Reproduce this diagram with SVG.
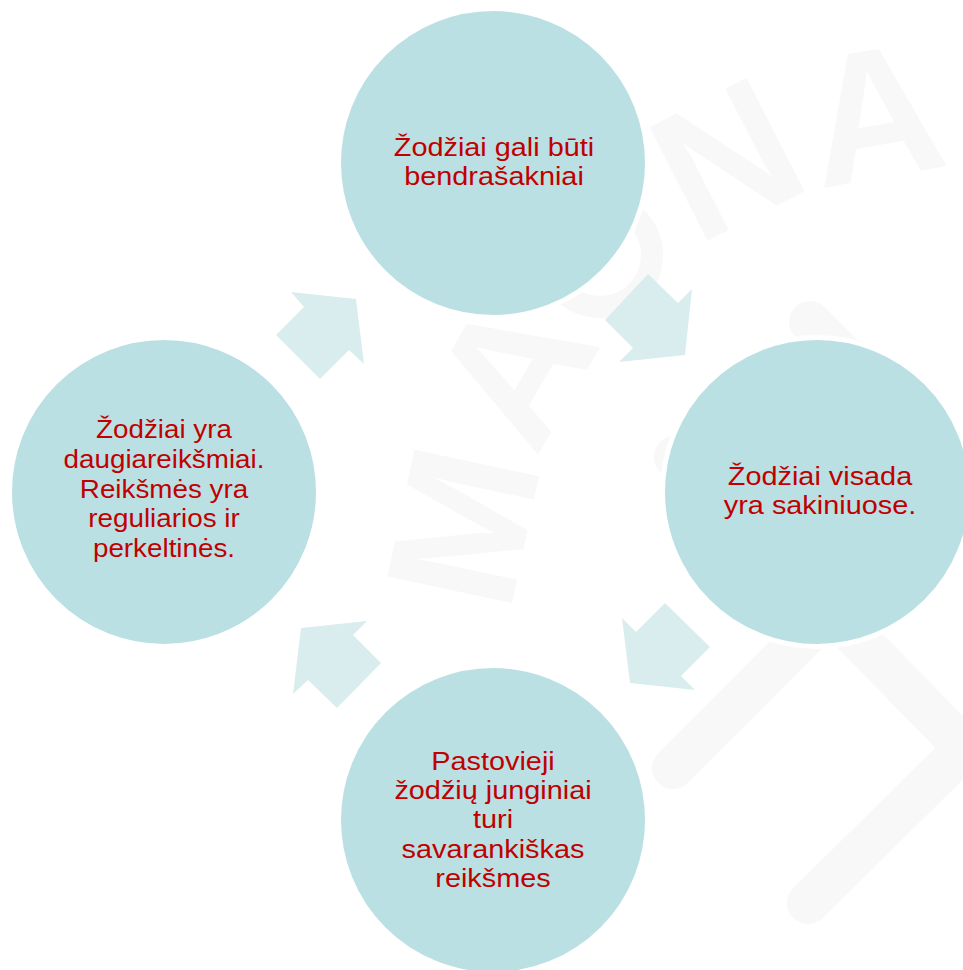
<svg xmlns="http://www.w3.org/2000/svg" width="963" height="970" viewBox="0 0 963 970">
  <defs>
    <style>
      .wm { fill: #f8f8f8; font-family: "Liberation Sans", Arial, sans-serif; font-weight: bold; font-size: 185px; text-anchor: middle; }
      .wms { fill: none; stroke: #f8f8f8; stroke-width: 42; stroke-linecap: round; stroke-linejoin: miter; }
      .node { fill: #bbe0e3; stroke: #ffffff; stroke-width: 5; }
      .lbl { fill: #c00000; font-family: "Liberation Sans", Arial, sans-serif; font-size: 26px; text-anchor: middle; }
      .arrow { fill: #d9edef; stroke: none; }
    </style>
  </defs>
  <rect x="0" y="0" width="963" height="970" fill="#ffffff"/>

  <g id="watermark">
    <text class="wm" transform="translate(461,526) rotate(-78)" x="0" y="66">M</text>
    <text class="wm" transform="translate(512,368) rotate(-60)" x="0" y="66">A</text>
    <circle cx="600" cy="255" r="52" fill="none" stroke="#f8f8f8" stroke-width="22"/>
    <text class="wm" transform="translate(726,157) rotate(-27)" x="0" y="66">N</text>
    <text class="wm" transform="translate(874,112) rotate(-10)" x="0" y="66">A</text>
    <path class="wms" d="M673,768 L840,601"/>
    <path class="wms" d="M820,600 L965,748 L808,903"/>
    <path class="wms" d="M810,322 L880,392"/>
    <circle cx="676" cy="457" r="22" fill="#f8f8f8"/>
  </g>

  <g id="connectors">
    <polygon class="arrow" points="648,274 678,303 692,289 685,355 619,362 633,348 605,320"/>
    <polygon class="arrow" points="622,618 636,632 665,603 710,647 681,676 695,690 630,683"/>
    <polygon class="arrow" points="367,621 353,635 381,663 337,708 308,680 293,694 301,628"/>
    <polygon class="arrow" points="291,292 356,299 364,364 349,350 320,379 276,335 304,307"/>
  </g>

  <g id="node-top">
    <circle class="node" cx="493" cy="163" r="154.5"/>
    <g transform="translate(494,0) scale(1.11,1)">
      <text class="lbl" x="0" y="156">Žodžiai gali būti</text>
      <text class="lbl" x="0" y="185">bendrašakniai</text>
    </g>
  </g>

  <g id="node-right">
    <circle class="node" cx="817" cy="492" r="154.5"/>
    <g transform="translate(820,0) scale(1.11,1)">
      <text class="lbl" x="0" y="485">Žodžiai visada</text>
      <text class="lbl" x="0" y="514">yra sakiniuose.</text>
    </g>
  </g>

  <g id="node-bottom">
    <circle class="node" cx="493" cy="820" r="154.5"/>
    <g transform="translate(493,0) scale(1.11,1)">
      <text class="lbl" x="0" y="770">Pastovieji</text>
      <text class="lbl" x="0" y="799">žodžių junginiai</text>
      <text class="lbl" x="0" y="828">turi</text>
      <text class="lbl" x="0" y="858">savarankiškas</text>
      <text class="lbl" x="0" y="887">reikšmes</text>
    </g>
  </g>

  <g id="node-left">
    <circle class="node" cx="164" cy="492" r="154.5"/>
    <g transform="translate(164,0) scale(1.07,1)">
      <text class="lbl" x="0" y="438">Žodžiai yra</text>
      <text class="lbl" x="0" y="468">daugiareikšmiai.</text>
      <text class="lbl" x="0" y="498">Reikšmės yra</text>
      <text class="lbl" x="0" y="527">reguliarios ir</text>
      <text class="lbl" x="0" y="557">perkeltinės.</text>
    </g>
  </g>
</svg>
